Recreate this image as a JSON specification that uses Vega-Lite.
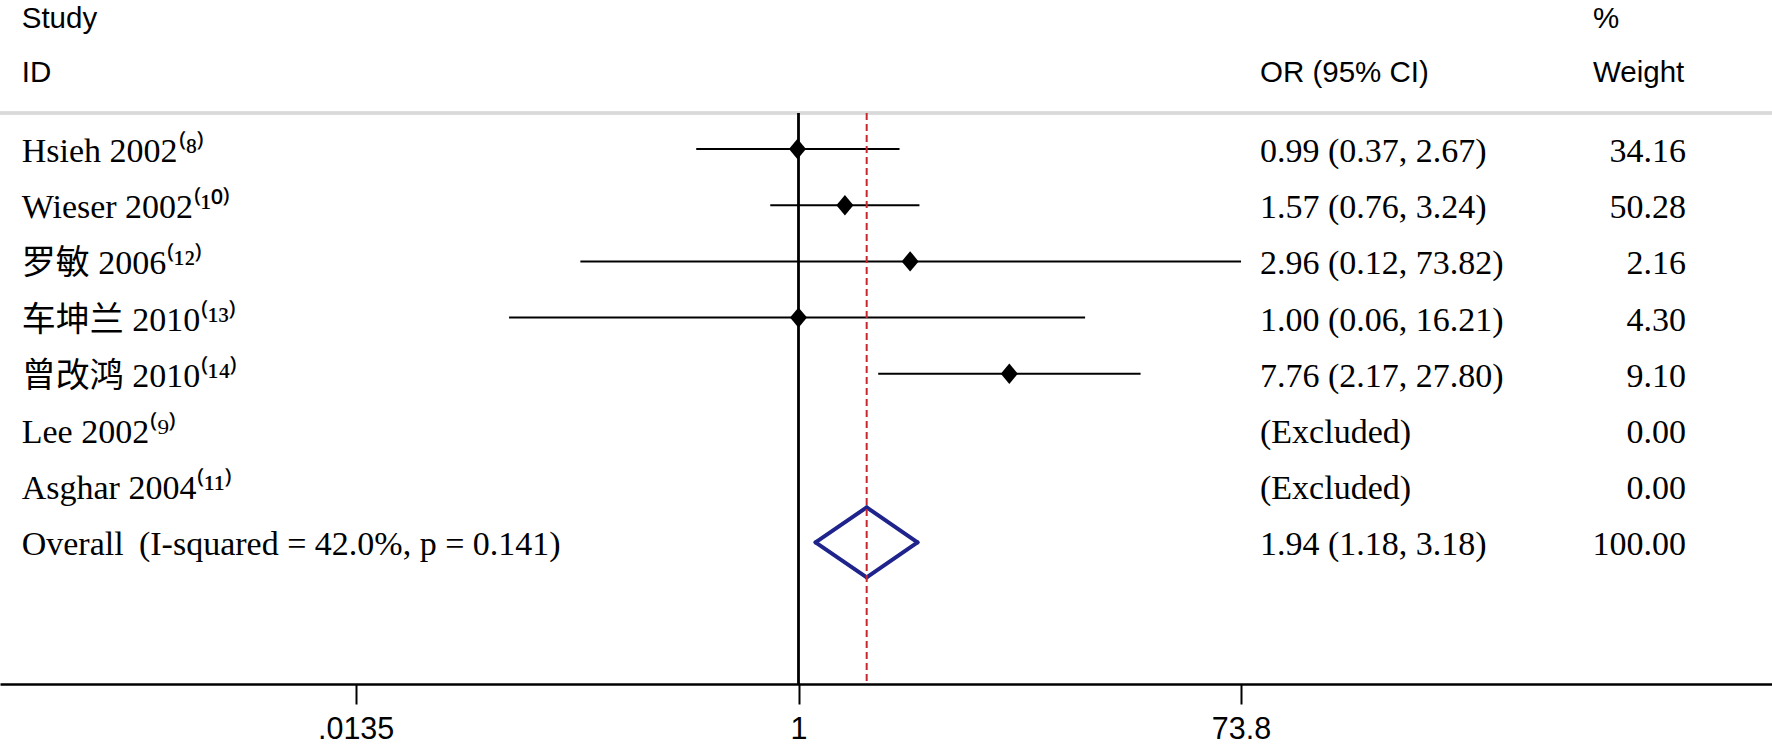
{
  "$schema": "https://vega.github.io/schema/vega-lite/v6.json",
  "autosize": {"type": "none"},
  "padding": {"left": 0, "right": 0, "top": 0, "bottom": 61},
  "width": 1772,
  "height": 684,
  "background": "white",
  "config": {"view": {"stroke": null}},
  "datasets": {
    "studies": [
      {"row": 1, "label": "Hsieh 2002⁽⁸⁾", "or": 0.99, "lo": 0.37, "hi": 2.67, "ci": "0.99 (0.37, 2.67)", "w": "34.16", "type": "study"},
      {"row": 2, "label": "Wieser 2002⁽¹⁰⁾", "or": 1.57, "lo": 0.76, "hi": 3.24, "ci": "1.57 (0.76, 3.24)", "w": "50.28", "type": "study"},
      {"row": 3, "label": "罗敏 2006⁽¹²⁾", "or": 2.96, "lo": 0.12, "hi": 73.82, "ci": "2.96 (0.12, 73.82)", "w": "2.16", "type": "study"},
      {"row": 4, "label": "车坤兰 2010⁽¹³⁾", "or": 1.0, "lo": 0.06, "hi": 16.21, "ci": "1.00 (0.06, 16.21)", "w": "4.30", "type": "study"},
      {"row": 5, "label": "曾改鸿 2010⁽¹⁴⁾", "or": 7.76, "lo": 2.17, "hi": 27.8, "ci": "7.76 (2.17, 27.80)", "w": "9.10", "type": "study"},
      {"row": 6, "label": "Lee 2002⁽⁹⁾", "or": null, "lo": null, "hi": null, "ci": "(Excluded)", "w": "0.00", "type": "excluded"},
      {"row": 7, "label": "Asghar 2004⁽¹¹⁾", "or": null, "lo": null, "hi": null, "ci": "(Excluded)", "w": "0.00", "type": "excluded"},
      {"row": 8, "label": "Overall \u2009(I-squared = 42.0%, p = 0.141)", "or": 1.94, "lo": 1.18, "hi": 3.18, "ci": "1.94 (1.18, 3.18)", "w": "100.00", "type": "overall"}
    ],
    "headLeft": [
      {"row": -1.438, "h": "Study"},
      {"row": -0.468, "h": "ID"}
    ],
    "headOR": [
      {"row": -0.468, "h": "OR (95% CI)"}
    ],
    "headW": [
      {"row": -1.438, "h": "%"},
      {"row": -0.468, "h": "Weight"}
    ]
  },
  "data": {"name": "studies"},
  "encoding": {
    "x": {
      "type": "quantitative",
      "scale": {"type": "log", "domain": [0.0004258, 12868], "nice": false},
      "axis": {
        "values": [0.0135, 1, 73.8],
        "labelExpr": "datum.value < 1 ? substring(format(datum.value, '~g'), 1) : format(datum.value, '~g')",
        "title": null,
        "grid": false,
        "domainColor": "black",
        "domainWidth": 2.5,
        "tickColor": "black",
        "tickWidth": 2,
        "tickSize": 20,
        "labelFont": "Liberation Sans, Arial",
        "labelFontSize": 30.5,
        "labelColor": "black",
        "labelPadding": 10,
        "labelFlush": false
      }
    },
    "y": {
      "type": "quantitative",
      "scale": {"domain": [-1.651, 10.52], "reverse": true, "nice": false, "zero": false},
      "axis": null
    }
  },
  "layer": [
    {
      "mark": {"type": "rule", "color": "#d9d9d9", "strokeWidth": 2.5},
      "encoding": {"y": {"datum": 0.3594}, "x": null}
    },
    {
      "mark": {"type": "rule", "color": "black", "strokeWidth": 1.5},
      "encoding": {"x": {"datum": 1}, "y": {"datum": 0.3594}, "y2": {"datum": 10.52}}
    },
    {
      "transform": [{"filter": "datum.type == 'study'"}],
      "mark": {"type": "rule", "color": "black", "strokeWidth": 2},
      "encoding": {"x": {"field": "lo"}, "x2": {"field": "hi"}, "y": {"field": "row"}}
    },
    {
      "transform": [{"filter": "datum.type == 'study'"}],
      "mark": {"type": "point", "shape": "M-1,0L0,-1.2L1,0L0,1.2Z", "filled": true, "color": "black", "size": 289, "opacity": 1},
      "encoding": {"x": {"field": "or"}, "y": {"field": "row"}}
    },
    {
      "transform": [{"filter": "datum.type == 'overall'"}],
      "mark": {"type": "rule", "color": "#1f238c", "strokeWidth": 4, "strokeCap": "round", "y2Offset": -35},
      "encoding": {"x": {"field": "lo"}, "x2": {"field": "or"}, "y": {"field": "row"}, "y2": {"field": "row"}}
    },
    {
      "transform": [{"filter": "datum.type == 'overall'"}],
      "mark": {"type": "rule", "color": "#1f238c", "strokeWidth": 4, "strokeCap": "round", "yOffset": -35},
      "encoding": {"x": {"field": "or"}, "x2": {"field": "hi"}, "y": {"field": "row"}, "y2": {"field": "row"}}
    },
    {
      "transform": [{"filter": "datum.type == 'overall'"}],
      "mark": {"type": "rule", "color": "#1f238c", "strokeWidth": 4, "strokeCap": "round", "y2Offset": 35},
      "encoding": {"x": {"field": "hi"}, "x2": {"field": "or"}, "y": {"field": "row"}, "y2": {"field": "row"}}
    },
    {
      "transform": [{"filter": "datum.type == 'overall'"}],
      "mark": {"type": "rule", "color": "#1f238c", "strokeWidth": 4, "strokeCap": "round", "yOffset": 35},
      "encoding": {"x": {"field": "or"}, "x2": {"field": "lo"}, "y": {"field": "row"}, "y2": {"field": "row"}}
    },
    {
      "transform": [{"filter": "datum.type == 'overall'"}],
      "mark": {"type": "rule", "color": "#c8282d", "strokeWidth": 2, "strokeDash": [7, 4]},
      "encoding": {"x": {"field": "or"}, "y": {"datum": 0.3594}, "y2": {"datum": 10.52}}
    },
    {
      "mark": {"type": "text", "align": "left", "baseline": "alphabetic", "dy": 13, "font": "Liberation Serif, Noto Sans CJK SC, serif", "fontSize": 34, "color": "black"},
      "encoding": {"x": {"datum": 0.0005258}, "y": {"field": "row"}, "text": {"field": "label"}}
    },
    {
      "mark": {"type": "text", "align": "left", "baseline": "alphabetic", "dy": 13, "font": "Liberation Serif, serif", "fontSize": 34, "color": "black"},
      "encoding": {"x": {"datum": 88.75}, "y": {"field": "row"}, "text": {"field": "ci"}}
    },
    {
      "mark": {"type": "text", "align": "right", "baseline": "alphabetic", "dy": 13, "font": "Liberation Serif, serif", "fontSize": 34, "color": "black"},
      "encoding": {"x": {"datum": 5578}, "y": {"field": "row"}, "text": {"field": "w"}}
    },
    {
      "data": {"name": "headLeft"},
      "mark": {"type": "text", "align": "left", "baseline": "alphabetic", "dy": 16, "font": "Liberation Sans, Arial", "fontSize": 29.5, "color": "black"},
      "encoding": {"x": {"datum": 0.0005258}, "y": {"field": "row"}, "text": {"field": "h"}}
    },
    {
      "data": {"name": "headOR"},
      "mark": {"type": "text", "align": "left", "baseline": "alphabetic", "dy": 16, "font": "Liberation Sans, Arial", "fontSize": 29.5, "color": "black"},
      "encoding": {"x": {"datum": 88.75}, "y": {"field": "row"}, "text": {"field": "h"}}
    },
    {
      "data": {"name": "headW"},
      "mark": {"type": "text", "align": "left", "baseline": "alphabetic", "dy": 16, "font": "Liberation Sans, Arial", "fontSize": 29.5, "color": "black"},
      "encoding": {"x": {"datum": 2258.8}, "y": {"field": "row"}, "text": {"field": "h"}}
    }
  ]
}
